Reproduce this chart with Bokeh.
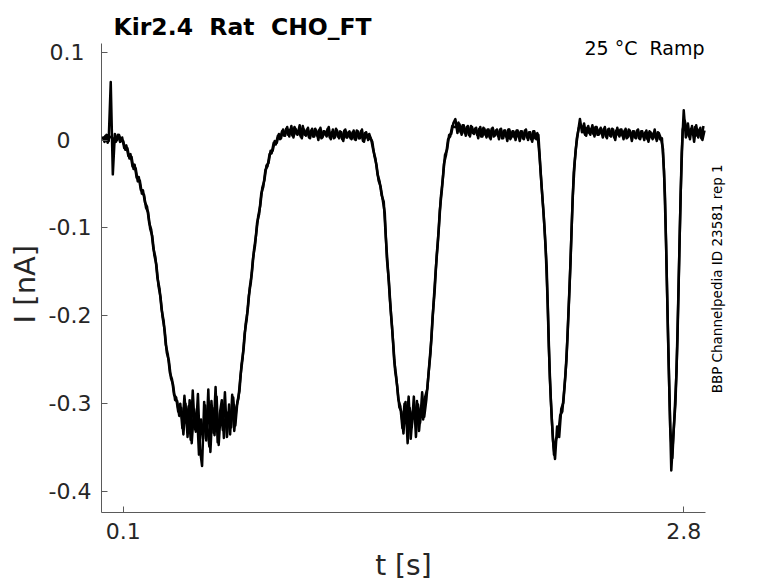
import math
from bokeh.plotting import figure
from bokeh.models import Range1d, Label, FixedTicker
from bokeh.embed import file_html
from bokeh.resources import INLINE

# ---- data ----
# Two overlaid sweeps, both sampled every 10 ms; sweep B is offset by 5 ms.
sample_dt = 0.01
sweep_b_offset = 0.005
sweep_a_nA = [
    0.004, -0.002, 0.006, -0.001, 0.066, -0.039, 0.007, 0.000, 0.006, -0.001,
    -0.001, -0.011, -0.009, -0.021, -0.019, -0.033, -0.032, -0.047, -0.046, -0.061,
    -0.062, -0.077, -0.082, -0.101, -0.109, -0.131, -0.142, -0.166, -0.179, -0.202,
    -0.217, -0.242, -0.251, -0.271, -0.278, -0.296, -0.297, -0.314, -0.305, -0.335,
    -0.300, -0.338, -0.296, -0.345, -0.310, -0.332, -0.289, -0.352, -0.371, -0.298,
    -0.342, -0.284, -0.355, -0.305, -0.336, -0.292, -0.347, -0.308, -0.330, -0.287,
    -0.338, -0.301, -0.327, -0.293, -0.325, -0.298, -0.286, -0.255, -0.238, -0.209,
    -0.193, -0.167, -0.151, -0.125, -0.108, -0.087, -0.075, -0.054, -0.046, -0.029,
    -0.026, -0.012, -0.012, -0.001, -0.003, 0.007, 0.002, 0.012, 0.005, 0.015,
    0.004, 0.016, 0.003, 0.013, 0.006, 0.017, 0.002, 0.012, 0.005, 0.014,
    0.002, 0.013, 0.004, 0.011, 0.000, 0.014, 0.003, 0.010, 0.004, 0.015,
    0.001, 0.012, 0.003, 0.011, 0.002, 0.009, -0.001, 0.012, 0.003, 0.010,
    0.001, 0.011, 0.000, 0.010, 0.002, 0.012, -0.002, 0.009, 0.000, 0.003,
    -0.002, -0.018, -0.028, -0.046, -0.053, -0.068, -0.083, -0.135, -0.161, -0.199,
    -0.229, -0.263, -0.280, -0.304, -0.309, -0.334, -0.298, -0.345, -0.305, -0.327,
    -0.292, -0.338, -0.301, -0.322, -0.287, -0.315, -0.296, -0.268, -0.243, -0.202,
    -0.173, -0.131, -0.102, -0.065, -0.043, -0.017, -0.011, 0.006, 0.007, 0.019,
    0.024, 0.008, 0.018, 0.006, 0.017, 0.005, 0.016, 0.004, 0.015, 0.007,
    0.014, 0.002, 0.015, 0.004, 0.013, 0.003, 0.012, 0.001, 0.014, 0.005,
    0.012, 0.001, 0.013, 0.002, 0.011, -0.001, 0.012, 0.003, 0.010, 0.000,
    0.011, -0.001, 0.010, 0.001, 0.012, 0.000, 0.009, -0.002, 0.010, 0.001,
    0.006, -0.033, -0.068, -0.102, -0.145, -0.235, -0.297, -0.342, -0.363, -0.326,
    -0.338, -0.306, -0.299, -0.268, -0.225, -0.168, -0.100, -0.037, -0.010, 0.008,
    0.024, 0.009, 0.019, 0.005, 0.016, 0.006, 0.017, 0.004, 0.015, 0.006,
    0.014, 0.003, 0.015, 0.002, 0.013, 0.004, 0.012, 0.000, 0.014, 0.004,
    0.012, 0.001, 0.013, 0.003, 0.011, -0.001, 0.010, 0.002, 0.012, 0.001,
    0.010, 0.000, 0.011, -0.002, 0.009, 0.001, 0.012, -0.001, 0.008, 0.002,
    -0.010, -0.065, -0.175, -0.280, -0.376, -0.335, -0.300, -0.225, -0.115, -0.015,
    0.034, 0.003, 0.019, 0.001, 0.016, -0.002, 0.017, 0.003, 0.014, 0.000,
    0.011,
]
sweep_b_nA = [
    0.001, 0.005, -0.003, 0.004, 0.003, 0.001, -0.002, 0.006, -0.002, 0.003,
    -0.009, -0.006, -0.018, -0.016, -0.030, -0.028, -0.043, -0.042, -0.057, -0.057,
    -0.071, -0.076, -0.094, -0.102, -0.123, -0.133, -0.157, -0.169, -0.193, -0.206,
    -0.233, -0.244, -0.265, -0.272, -0.290, -0.293, -0.309, -0.300, -0.328, -0.291,
    -0.322, -0.303, -0.341, -0.285, -0.329, -0.306, -0.358, -0.318, -0.340, -0.302,
    -0.326, -0.349, -0.297, -0.333, -0.281, -0.344, -0.312, -0.296, -0.339, -0.309,
    -0.312, -0.335, -0.290, -0.331, -0.304, -0.294, -0.268, -0.249, -0.220, -0.204,
    -0.177, -0.162, -0.135, -0.120, -0.094, -0.084, -0.061, -0.053, -0.034, -0.030,
    -0.016, -0.015, -0.003, -0.005, 0.005, 0.001, 0.010, 0.005, 0.013, 0.006,
    0.012, 0.005, 0.015, 0.007, 0.011, 0.004, 0.016, 0.006, 0.012, 0.003,
    0.011, 0.004, 0.013, 0.005, 0.012, 0.002, 0.010, 0.006, 0.013, 0.003,
    0.009, 0.002, 0.013, 0.004, 0.010, 0.001, 0.011, 0.003, 0.009, 0.002,
    0.009, 0.001, 0.011, 0.002, 0.010, -0.001, 0.008, 0.003, 0.007, 0.000,
    -0.012, -0.021, -0.039, -0.047, -0.063, -0.070, -0.111, -0.146, -0.183, -0.212,
    -0.250, -0.269, -0.295, -0.303, -0.328, -0.300, -0.322, -0.292, -0.340, -0.309,
    -0.318, -0.297, -0.331, -0.304, -0.318, -0.292, -0.283, -0.253, -0.225, -0.185,
    -0.149, -0.119, -0.080, -0.057, -0.027, -0.017, 0.001, 0.004, 0.016, 0.015,
    0.015, 0.020, 0.009, 0.017, 0.008, 0.015, 0.006, 0.016, 0.008, 0.013,
    0.006, 0.013, 0.004, 0.014, 0.006, 0.012, 0.003, 0.013, 0.004, 0.011,
    0.005, 0.012, 0.002, 0.011, 0.004, 0.012, 0.001, 0.010, 0.003, 0.011,
    0.004, 0.010, 0.002, 0.011, 0.003, 0.009, 0.001, 0.010, 0.002, 0.008,
    -0.017, -0.052, -0.083, -0.125, -0.187, -0.271, -0.320, -0.358, -0.340, -0.336,
    -0.313, -0.309, -0.282, -0.251, -0.194, -0.137, -0.065, -0.025, 0.002, 0.014,
    0.016, 0.012, 0.006, 0.014, 0.008, 0.013, 0.007, 0.015, 0.006, 0.012,
    0.007, 0.013, 0.004, 0.012, 0.005, 0.013, 0.003, 0.011, 0.006, 0.012,
    0.005, 0.011, 0.002, 0.012, 0.004, 0.010, 0.003, 0.011, 0.002, 0.010,
    0.004, 0.009, 0.001, 0.010, 0.003, 0.008, 0.002, 0.009, 0.001, 0.002,
    -0.035, -0.118, -0.231, -0.328, -0.362, -0.315, -0.265, -0.167, -0.062, 0.012,
    0.022, 0.010, 0.004, 0.013, 0.007, 0.015, 0.005, 0.012, 0.002, 0.016,
]
time_a = [round(k * sample_dt, 3) for k in range(len(sweep_a_nA))]
time_b = [round(sweep_b_offset + k * sample_dt, 3) for k in range(len(sweep_b_nA))]

x_ticks = [0.1, 2.8]
x_tick_labels = ["0.1", "2.8"]
y_ticks = [-0.4, -0.3, -0.2, -0.1, 0.0, 0.1]
# padded like a MATLAB char matrix (right-aligned with trailing blanks)
y_tick_labels = ["-0.4", "-0.3", "-0.2", "-0.1", "0\u00a0\u00a0\u00a0", "0.1\u00a0"]

title_text = "Kir2.4\u00a0 Rat\u00a0 CHO_FT"
condition_text = "25 \u00b0C\u00a0 Ramp"
id_text = "BBP Channelpedia ID 23581 rep 1"
NB = "\u00a0"
# trailing blanks keep the labels centred on the visible axis lines
x_label = "t [s]" + NB * 8
y_label = "I [nA]" + NB * 6

# axis extents of the original plot box
x_lo, x_hi = -0.0045, 2.905
y_lo, y_hi = -0.4239, 0.1099

# ---- figure ----
FONT = "DejaVu Sans"
TXT = "#262626"
AX = "#5a5a5a"

# frame extends up to the top and right page edges so the annotation texts are
# not clipped; the visible axis lines are limited with `bounds`.
p = figure(
    frame_width=675, frame_height=512,
    min_border_left=101, min_border_right=0, min_border_top=0, min_border_bottom=40,
    x_range=Range1d(x_lo, 3.2468), y_range=Range1d(y_lo, 0.1589),
    output_backend="svg", toolbar_location=None,
)
p.outline_line_color = None
p.grid.visible = False
p.background_fill_color = "white"
p.border_fill_color = "white"

p.line(time_a, sweep_a_nA, line_color="black", line_width=2.5, line_join="round")
p.line(time_b, sweep_b_nA, line_color="black", line_width=2.5, line_join="round")

for ax in (p.xaxis[0], p.yaxis[0]):
    ax.axis_line_color = AX
    ax.axis_line_width = 1
    ax.major_tick_line_color = AX
    ax.major_tick_in = 6
    ax.major_tick_out = 0
    ax.minor_tick_line_color = None
    ax.major_label_text_font = FONT
    ax.major_label_text_font_size = "22px"
    ax.major_label_text_color = TXT
    ax.axis_label_text_font = FONT
    ax.axis_label_text_font_style = "normal"
    ax.axis_label_text_color = TXT

p.xaxis.axis_label_text_font_size = "28px"
p.yaxis.axis_label_text_font_size = "29px"
p.xaxis.bounds = (x_lo, x_hi)
p.yaxis.bounds = (y_lo, y_hi)
p.xaxis.ticker = FixedTicker(ticks=x_ticks)
p.xaxis.major_label_overrides = dict(zip(x_ticks, x_tick_labels))
p.yaxis.ticker = FixedTicker(ticks=y_ticks)
p.yaxis.major_label_overrides = dict(zip(y_ticks, y_tick_labels))
p.xaxis.axis_label = x_label
p.yaxis.axis_label = y_label
p.xaxis.major_label_standoff = 10
p.xaxis.axis_label_standoff = 7
p.yaxis.major_label_standoff = 10
p.yaxis.axis_label_standoff = 4

p.add_layout(Label(x=0.0533, y=0.1285, text=title_text, text_font=FONT,
                   text_font_size="23.5px", text_font_style="bold", text_color="black",
                   text_align="left", text_baseline="alphabetic"))
p.add_layout(Label(x=2.9, y=0.1046, text=condition_text, text_font=FONT,
                   text_font_size="19px", text_color="black",
                   text_align="right", text_baseline="alphabetic"))
p.add_layout(Label(x=2.961, y=-0.1579, text=id_text, text_font=FONT,
                   text_font_size="13.5px", text_color="black", angle=math.pi / 2,
                   text_align="center", text_baseline="alphabetic"))

open("out.html", "w").write(file_html(p, INLINE))
